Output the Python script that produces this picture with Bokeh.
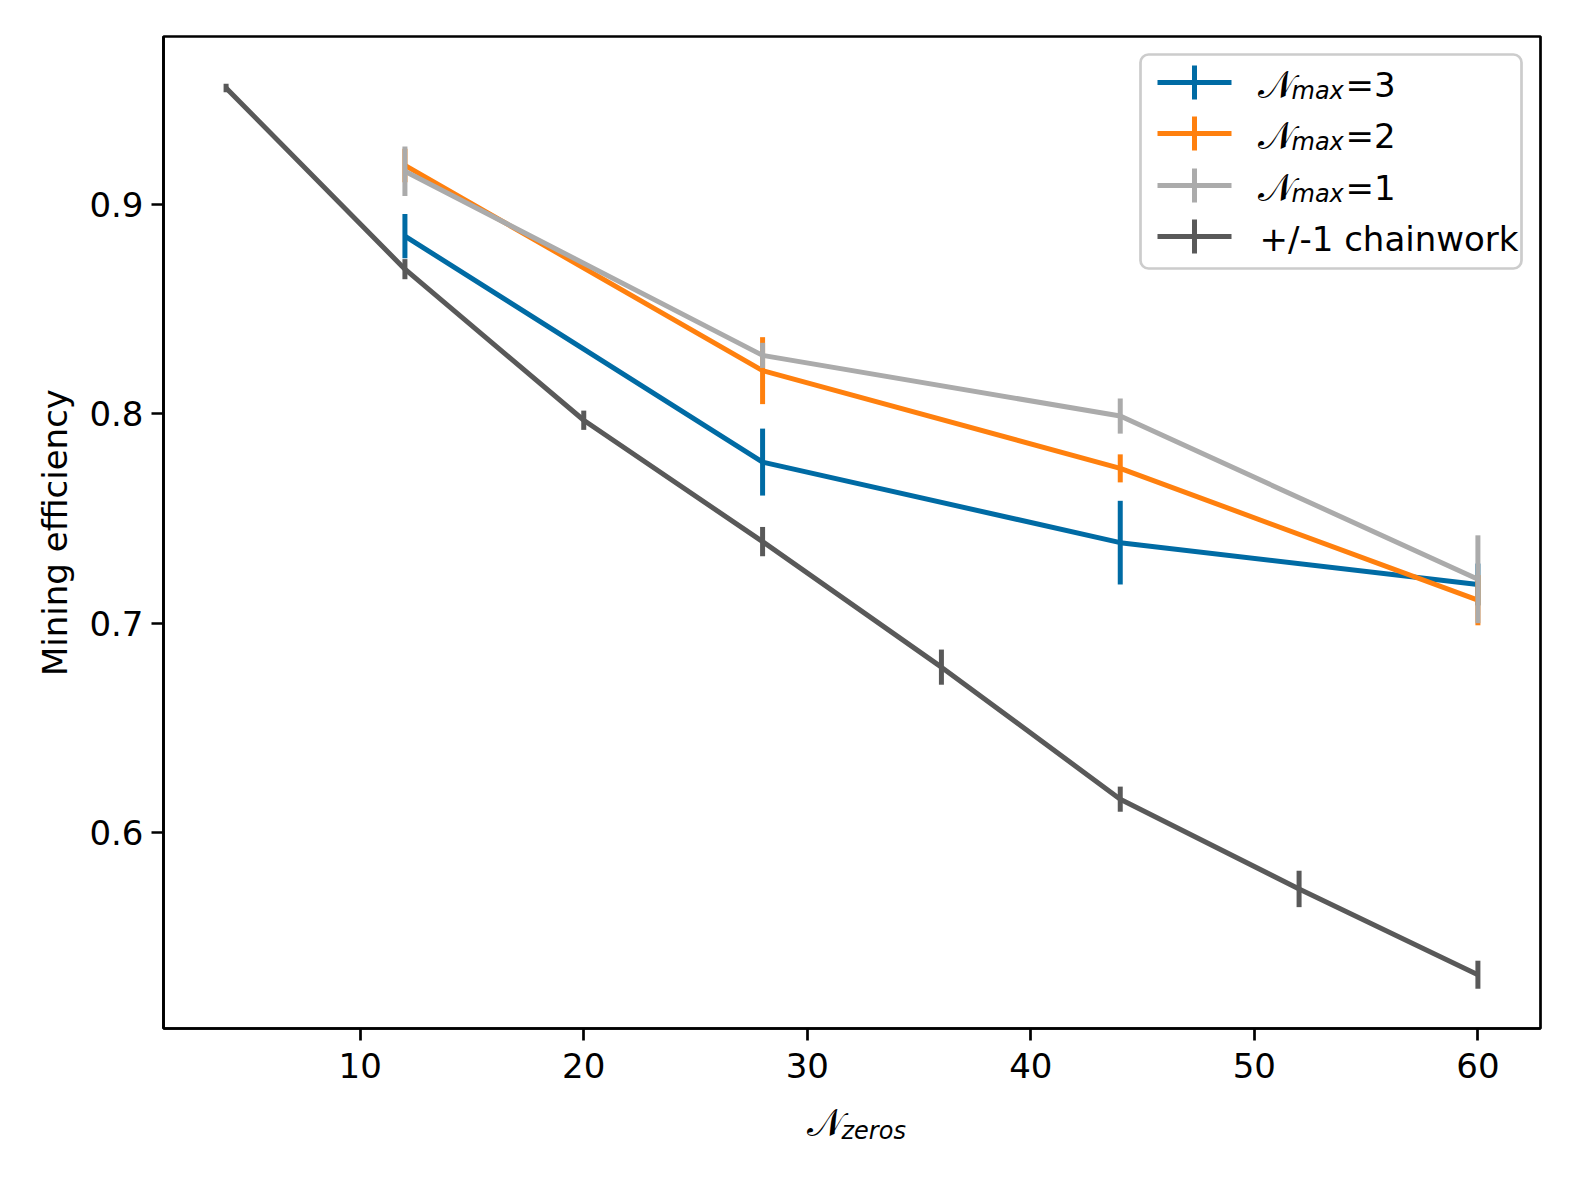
import numpy as np
from bokeh.plotting import figure
from bokeh.layouts import column
from bokeh.models import Range1d, Label, BoxAnnotation, PolyAnnotation, FixedTicker
from bokeh.embed import file_html
from bokeh.resources import INLINE

# ---- data ----
n_zeros_sel = [12, 28, 44, 60]
eff_nmax3 = [0.885, 0.777, 0.7385, 0.7185]
err_nmax3 = [0.0106, 0.016, 0.020, 0.010]
eff_nmax2 = [0.9188, 0.8207, 0.774, 0.711]
err_nmax2 = [0.008, 0.016, 0.0067, 0.012]
eff_nmax1 = [0.916, 0.828, 0.799, 0.721]
err_nmax1 = [0.0118, 0.006, 0.0084, 0.021]
n_zeros_chain = [4, 12, 20, 28, 36, 44, 52, 60]
eff_chain = [0.9558, 0.8692, 0.797, 0.739, 0.679, 0.6159, 0.573, 0.532]
err_chain = [0.002, 0.0048, 0.0046, 0.007, 0.0084, 0.006, 0.0087, 0.0067]

x_ticks = [10, 20, 30, 40, 50, 60]
y_ticks = [0.6, 0.7, 0.8, 0.9]

series = [
    ("max", "=3", n_zeros_sel, eff_nmax3, err_nmax3, "#006BA4"),
    ("max", "=2", n_zeros_sel, eff_nmax2, err_nmax2, "#FF800E"),
    ("max", "=1", n_zeros_sel, eff_nmax1, err_nmax1, "#ABABAB"),
    (None, "+/-1 chainwork", n_zeros_chain, eff_chain, err_chain, "#595959"),
]

FONT = "DejaVu Sans"
FS = "34px"
FW = 1377
BL = 163
BR = 20

p = figure(frame_width=FW, frame_height=992,
           x_range=Range1d(1.2, 62.8), y_range=Range1d(0.5063, 0.9804),
           output_backend="svg", toolbar_location=None,
           min_border_left=BL, min_border_top=36, min_border_right=BR,
           min_border_bottom=70)
p.background_fill_color = "white"
p.border_fill_color = "white"
p.outline_line_color = "black"
p.outline_line_width = 2.7
p.xgrid.visible = False
p.ygrid.visible = False

for ax in (p.xaxis[0], p.yaxis[0]):
    ax.axis_line_width = 2.7
    ax.axis_line_color = "black"
    ax.major_tick_line_width = 2.7
    ax.major_tick_out = 12
    ax.major_tick_in = 0
    ax.minor_tick_line_color = None
    ax.major_label_text_font = FONT
    ax.major_label_text_font_size = FS
    ax.major_label_text_color = "black"
    ax.axis_label_text_font = FONT
    ax.axis_label_text_font_size = FS
    ax.axis_label_text_font_style = "normal"
    ax.axis_label_text_color = "black"

p.xaxis.ticker = FixedTicker(ticks=x_ticks)
p.yaxis.ticker = FixedTicker(ticks=y_ticks)
p.xaxis.major_label_standoff = 12
p.yaxis.major_label_standoff = 8
p.yaxis.axis_label = "Mining efficiency"
p.yaxis.axis_label_standoff = 11

for sub, tail, xs, ys, es, col in series:
    ys_a = np.array(ys)
    es_a = np.array(es)
    p.line(xs, ys, line_color=col, line_width=5)
    p.segment(x0=xs, y0=ys_a - es_a, x1=xs, y1=ys_a + es_a,
              line_color=col, line_width=5)

# ---- legend ----
p.add_layout(BoxAnnotation(left=977, right=1358, bottom=760, top=974,
                           left_units="screen", right_units="screen",
                           bottom_units="screen", top_units="screen",
                           fill_color="white", fill_alpha=0.8,
                           line_color="#CCCCCC", line_alpha=1.0, line_width=2.7,
                           border_radius=8, level="overlay"))

row_centers = [946, 895, 843, 792]
for (sub, tail, xs, ys, es, col), yc in zip(series, row_centers):
    p.add_layout(PolyAnnotation(xs=[994, 1068], ys=[yc, yc],
                                xs_units="screen", ys_units="screen",
                                line_color=col, line_alpha=1.0, line_width=5,
                                fill_alpha=0, level="overlay"))
    p.add_layout(PolyAnnotation(xs=[1031, 1031], ys=[yc - 17, yc + 17],
                                xs_units="screen", ys_units="screen",
                                line_color=col, line_alpha=1.0, line_width=5,
                                fill_alpha=0, level="overlay"))
    yb = yc - 2
    if sub is None:
        p.add_layout(Label(x=1096, y=yb, x_units="screen", y_units="screen",
                           text=tail, text_font=FONT, text_font_size=FS,
                           text_baseline="alphabetic", text_color="black",
                           level="overlay"))
    else:
        p.add_layout(Label(x=1094, y=yb, x_units="screen", y_units="screen",
                           text="𝒩", text_font=FONT, text_font_size="38px",
                           text_baseline="alphabetic", text_color="black",
                           level="overlay"))
        p.add_layout(Label(x=1128, y=yb - 6, x_units="screen", y_units="screen",
                           text=sub, text_font=FONT, text_font_size="24px",
                           text_font_style="italic",
                           text_baseline="alphabetic", text_color="black",
                           level="overlay"))
        p.add_layout(Label(x=1182, y=yb, x_units="screen", y_units="screen",
                           text=tail, text_font=FONT, text_font_size=FS,
                           text_baseline="alphabetic", text_color="black",
                           level="overlay"))

# ---- x axis label strip (math-like N_zeros) ----
q = figure(frame_width=FW, frame_height=60,
           x_range=p.x_range, y_range=Range1d(0, 1),
           output_backend="svg", toolbar_location=None,
           min_border_left=BL, min_border_right=BR,
           min_border_top=0, min_border_bottom=0)
q.axis.visible = False
q.xgrid.visible = False
q.ygrid.visible = False
q.outline_line_color = None
q.background_fill_color = "white"
q.border_fill_color = "white"
q.add_layout(Label(x=643, y=36, x_units="screen", y_units="screen",
                   text="𝒩", text_font=FONT, text_font_size="38px",
                   text_baseline="alphabetic", text_color="black"))
q.add_layout(Label(x=678, y=28, x_units="screen", y_units="screen",
                   text="zeros", text_font=FONT, text_font_size="24px",
                   text_font_style="italic",
                   text_baseline="alphabetic", text_color="black"))

layout = column(p, q, spacing=0)
open("out.html", "w").write(file_html(layout, INLINE))
